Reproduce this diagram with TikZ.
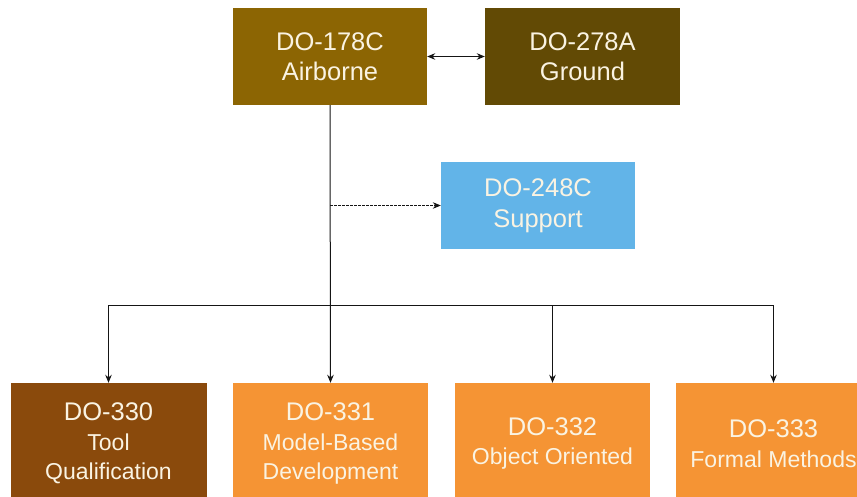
\documentclass[tikz,border=0pt]{standalone}
\usepackage{fontspec}
\setmainfont{Liberation Sans}
\usetikzlibrary{arrows.meta}
\definecolor{airb}{HTML}{8C6503}
\definecolor{grnd}{HTML}{624A05}
\definecolor{supp}{HTML}{62B4E8}
\definecolor{toolq}{HTML}{8A4A0C}
\definecolor{orng}{HTML}{F59434}
\definecolor{txt}{HTML}{FAF3E2}
\definecolor{ln}{HTML}{151515}
\tikzset{
  box/.style={draw=none, text=txt, align=center, inner sep=0pt},
  topbox/.style={box, minimum width=194pt, minimum height=97pt, font=\fontsize{25.5}{30.5}\selectfont},
  botbox/.style={box, minimum width=196pt, minimum height=117pt, font=\fontsize{23}{29.5}\selectfont},
  conn/.style={draw=ln, line width=1pt},
  arr/.style={conn, -{Stealth[length=8pt,width=6.5pt]}},
}
\newcommand{\firstline}[1]{{\fontsize{25.5}{30.5}\selectfont #1}}
\begin{document}
\begin{tikzpicture}[x=1pt,y=-1pt]
\clip (0,0) rectangle (857,496);
\fill[white] (0,0) rectangle (857,496);
\node[topbox, fill=airb] (A) at (330,56.5) {DO-178C\\Airborne};
\node[topbox, fill=grnd, minimum width=195pt] (G) at (582.5,56.5) {DO-278A\\Ground};
\node[topbox, fill=supp, minimum height=87pt] (S) at (538,205.5) {DO-248C\\Support};
\node[botbox, fill=toolq, minimum height=121pt] (B1) at (108.5,443.5) {\firstline{DO-330}\\Tool\\Qualification};
\node[botbox, fill=orng, minimum width=195pt, minimum height=121pt] (B2) at (330.5,443.5) {\firstline{DO-331}\\Model-Based\\Development};
\node[botbox, fill=orng, minimum width=195pt, minimum height=121pt] (B3) at (552.5,443.5) {\firstline{DO-332}\\Object Oriented};
\node[botbox, fill=orng, minimum width=195pt, minimum height=121pt] (B4) at (773.5,443.5) {\firstline{DO-333}\\Formal Methods};
\coordinate (bus) at (330,305);
\coordinate (busL) at (108.5,305);
\coordinate (busR) at (773.5,305);
\draw[conn, {Stealth[length=8pt,width=6.5pt]}-{Stealth[length=8pt,width=6.5pt]}] (A.east) -- (G.west);
\draw[arr] (A.south) -- (B2.north);
\draw[conn] (busL) -- (busR);
\draw[arr] (busL) -- (B1.north);
\draw[arr] (bus -| B3.north) -- (B3.north);
\draw[arr] (busR) -- (B4.north);
\draw[arr, dashed, dash pattern=on 2.5pt off 1.5pt, line width=0.7pt] (A.south |- S.west) -- (S.west);
\end{tikzpicture}
\end{document}
